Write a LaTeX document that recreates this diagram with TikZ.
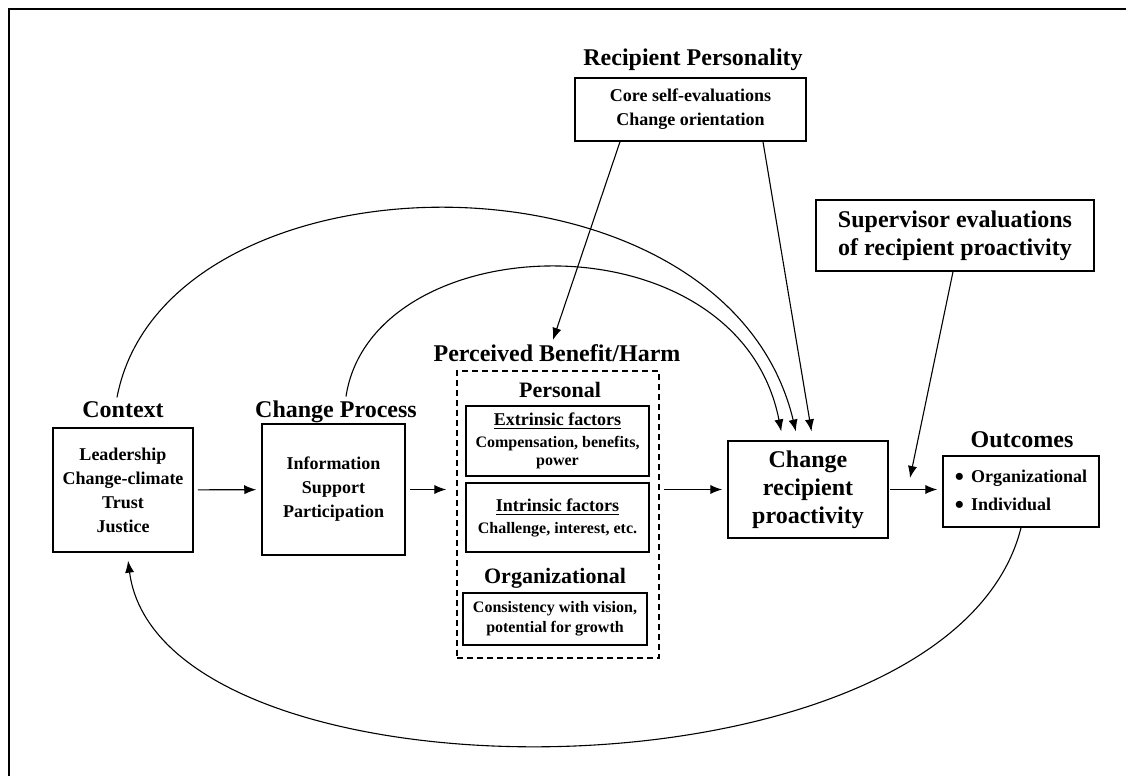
\documentclass[tikz,border=0pt]{standalone}
\usepackage{fontspec}
\setmainfont{Liberation Serif}
\usetikzlibrary{arrows.meta}

\newcommand{\bigdot}{\raisebox{-1.3pt}{\fontsize{13}{9}\selectfont\textbullet}\hspace{3.5pt}}

\begin{document}
\begin{tikzpicture}[x=0.5pt,y=-0.5pt,->,>={Latex[length=6pt,width=4.6pt]},line width=0.55pt,
	title node/.style={inner sep=2pt,font=\fontsize{12}{14}\selectfont\bfseries},
	sub node/.style={inner sep=2pt,font=\fontsize{11}{13}\selectfont\bfseries},
	box node/.style={draw,line width=0.75pt,inner sep=0pt,align=center,font=\fontsize{9}{12}\selectfont\bfseries},
	big box node/.style={box node,font=\fontsize{12}{14}\selectfont\bfseries},
	factor node/.style={box node,font=\fontsize{8}{9}\selectfont\bfseries}
]

	\useasboundingbox (0,0) rectangle (1130,776);
	\draw[-,line width=1pt] (9,776) -- (9,9) -- (1126,9);

	% left chain
	\node[title node] at (123,410) (ctx title) {Context};
	\node[box node,minimum width=70pt,minimum height=62pt] at (123,490) (ctx)
		{Leadership\\ Change-climate\\ Trust\\ Justice};
	\node[title node] at (336,412) (proc title) {Change Process};
	\node[box node,minimum width=71.5pt,minimum height=65.5pt] at (333.5,489.5) (proc)
		{Information\\ Support\\ Participation};

	% perceived benefit / harm
	\node[title node] at (557,353) (pbh title) {Perceived Benefit/Harm};
	\node[draw,dash pattern=on 3pt off 2pt,line width=0.75pt,minimum width=101pt,minimum height=143.5pt] at (558,514.5) (pbh) {};
	\node[sub node] at (560,390) (pers) {Personal};
	\node[factor node,minimum width=91.5pt,minimum height=35pt] at (557.5,441) (extr)
		{{\fontsize{9}{9}\selectfont\underline{Extrinsic factors}}\\[2pt] Compensation, benefits,\\ power};
	\node[factor node,minimum width=91.5pt,minimum height=34.5pt] at (557.5,517.5) (intr)
		{{\fontsize{9}{9}\selectfont\underline{Intrinsic factors}}\\[2pt] Challenge, interest, etc.};
	\node[sub node] at (555,578) (org) {Organizational};
	\node[factor node,minimum width=92pt,minimum height=26pt] at (555,619) (cons)
		{Consistency with vision,\\[1pt] potential for growth};

	% right side
	\node[big box node,minimum width=80pt,minimum height=48.5pt] at (808,489.5) (crp)
		{Change\\ recipient\\ proactivity};
	\node[title node] at (1022,440) (out title) {Outcomes};
	\node[box node,align=left,minimum width=78pt,minimum height=35.5pt] at (1021,491.5) (out)
		{\bigdot Organizational\\[2pt] \bigdot Individual};
	\node[title node] at (693,60) (rp title) {Recipient Personality};
	\node[box node,minimum width=115.5pt,minimum height=31.5pt] at (690.5,109.5) (rp)
		{Core self-evaluations\\ Change orientation};
	\node[big box node,minimum width=139pt,minimum height=35.5pt] at (955,235.5) (sup)
		{Supervisor evaluations\\ of recipient proactivity};
	\coordinate (sup end) at (910,478);

	% straight arrows
	\draw[shorten <=2pt,shorten >=2.5pt] (ctx) -- (proc);
	\draw[shorten <=2pt,shorten >=5pt] (proc.east) -- (proc.east -| pbh.west);
	\draw[shorten <=2pt,shorten >=2.5pt] (pbh.east |- crp.west) -- (crp.west);
	\draw[shorten <=0.5pt,shorten >=2.5pt] (crp.east) -- (crp.east -| out.west);
	\draw ([xshift=-1pt]sup.south) -- (sup end);
	\draw ([xshift=-35.25pt]rp.south) -- ([xshift=-2pt]pbh title.north);
	\draw[shorten >=4.5pt] ([xshift=36.25pt]rp.south) -- ([xshift=2.5pt]crp.north);

	% feedback arcs
	\draw[shorten >=4.5pt] ([xshift=-3pt]ctx title.north) .. controls (165,145) and (725,135) .. ([xshift=-5pt]crp.north);
	\draw[shorten >=4.5pt] ([xshift=5pt]proc title.north) .. controls (372,225) and (738,212) .. ([xshift=-12.5pt]crp.north);
	\draw[shorten >=4pt] (out.south) .. controls (950,812) and (161,812) .. ([xshift=2pt]ctx.south);
\end{tikzpicture}
\end{document}
